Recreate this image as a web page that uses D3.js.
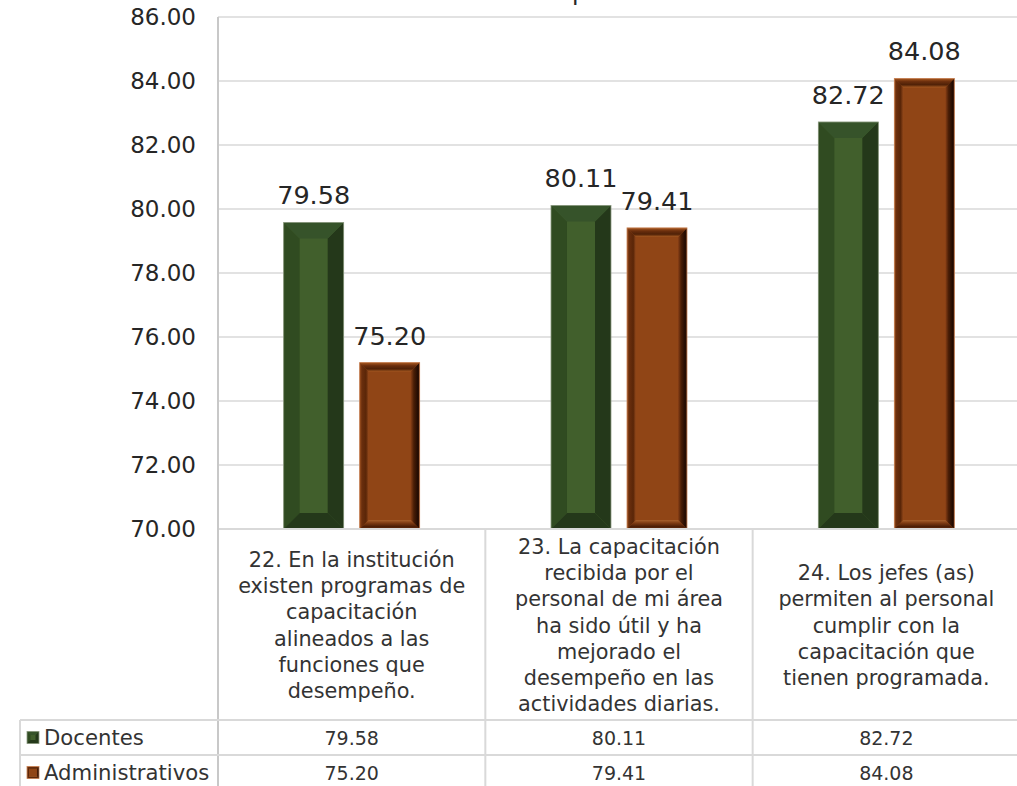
<!DOCTYPE html>
<html>
<head>
<meta charset="utf-8">
<script src="https://cdn.jsdelivr.net/npm/d3@7"></script>
<style>
  html, body { margin: 0; padding: 0; background: #ffffff; }
  svg { display: block; }
  text { font-family: "DejaVu Sans", sans-serif; }
</style>
</head>
<body>
<svg id="chart" width="1017" height="786"></svg>
<script>
// ---- data ----
const chartTitle = "Capacitación";
const categories = ["22", "23", "24"];
const categoryLines = [
  ["22. En la institución", "existen programas de", "capacitación", "alineados a las", "funciones que", "desempeño."],
  ["23. La capacitación", "recibida por el", "personal de mi área", "ha sido útil y ha", "mejorado el", "desempeño en las", "actividades diarias."],
  ["24. Los jefes (as)", "permiten al personal", "cumplir con la", "capacitación que", "tienen programada."]
];
const seriesNames = ["Docentes", "Administrativos"];
const docentes = [79.58, 80.11, 82.72];
const administrativos = [75.20, 79.41, 84.08];
const yTicks = [70, 72, 74, 76, 78, 80, 82, 84, 86];

// ---- layout ----
const svg = d3.select("#chart");
const plotLeft = 218, plotRight = 1020, plotTop = 17, plotBottom = 529;
const labelBottom = 720, row1Bottom = 755, row2Bottom = 790, tableLeft = 20;
const gridColor = "#d9d9d9";

const y = d3.scaleLinear().domain([70, 86]).range([plotBottom, plotTop]);
const x = d3.scaleBand().domain(categories).range([plotLeft, plotRight]);
const xSub = d3.scaleBand().domain(seriesNames).range([0, x.bandwidth()])
  .paddingInner(0.2105).paddingOuter(0.864);

const values = { "Docentes": docentes, "Administrativos": administrativos };

// ---- gradients for bevelled bars ----
const defs = svg.append("defs");
function lg(id, x1, y1, x2, y2, stops) {
  const g = defs.append("linearGradient").attr("id", id)
    .attr("x1", x1).attr("y1", y1).attr("x2", x2).attr("y2", y2);
  stops.forEach(s => g.append("stop").attr("offset", s[0]).attr("stop-color", s[1]));
}
// brown soft-round bevel
lg("brL", 0, 0, 1, 0, [[0, "#9a4e1c"], [0.25, "#6a2e0d"], [0.7, "#5a2608"], [1, "#93481a"]]);
lg("brR", 0, 0, 1, 0, [[0, "#8a4016"], [0.35, "#4a1e06"], [0.8, "#220b02"], [1, "#3a1605"]]);
lg("brT", 0, 0, 0, 1, [[0, "#a9581f"], [0.35, "#6a2e0d"], [0.7, "#4f2107"], [1, "#a35720"]]);
lg("brB", 0, 0, 0, 1, [[0, "#a8602c"], [0.35, "#7c3a12"], [0.75, "#4a1d06"], [1, "#6a2e0d"]]);

const styles = {
  "Docentes": { kind: "angle", face: "#415f2c", left: "#304b21", top: "#36532a", right: "#24381a", bottom: "#24381a", edge: "#8e9c84" },
  "Administrativos": { kind: "soft", face: "#904516", left: "url(#brL)", top: "url(#brT)", right: "url(#brR)", bottom: "url(#brB)", edge: "#c9865a" }
};

function bevelBar(g, bx, by, w, h, st, b) {
  const pts = (arr) => arr.map(p => p.join(",")).join(" ");
  g.append("rect").attr("x", bx).attr("y", by).attr("width", w).attr("height", h).attr("fill", st.face);
  const xl = bx, xr = bx + w, yt = by, yb = by + h;
  g.append("polygon").attr("points", pts([[xl, yt], [xl + b, yt + b], [xl + b, yb - b], [xl, yb]])).attr("fill", st.left);
  g.append("polygon").attr("points", pts([[xr, yt], [xr - b, yt + b], [xr - b, yb - b], [xr, yb]])).attr("fill", st.right);
  g.append("polygon").attr("points", pts([[xl, yt], [xr, yt], [xr - b, yt + b], [xl + b, yt + b]])).attr("fill", st.top);
  g.append("polygon").attr("points", pts([[xl, yb], [xr, yb], [xr - b, yb - b], [xl + b, yb - b]])).attr("fill", st.bottom);
  g.append("rect").attr("x", bx).attr("y", by).attr("width", w).attr("height", h)
    .attr("fill", "none").attr("stroke", st.edge).attr("stroke-width", 0.8);
}

// ---- title (sits above the frame) ----
svg.append("text").attr("x", 618).attr("y", 0).attr("text-anchor", "middle")
  .attr("font-size", 24).attr("fill", "#262626").text(chartTitle);

// ---- gridlines ----
svg.append("g").selectAll("line").data(yTicks.filter(t => t !== 70)).join("line")
  .attr("x1", plotLeft).attr("x2", plotRight)
  .attr("y1", d => y(d)).attr("y2", d => y(d))
  .attr("stroke", gridColor).attr("stroke-width", 1.5);

// ---- y axis labels ----
const yAxis = svg.append("g").attr("transform", `translate(${plotLeft},0)`)
  .call(d3.axisLeft(y).tickValues(yTicks).tickFormat(d3.format(".2f")).tickSize(0).tickPadding(22));
yAxis.select(".domain").remove();
yAxis.selectAll("text").attr("font-size", 23).attr("fill", "#262626")
  .attr("font-family", "DejaVu Sans, sans-serif");

// ---- bars ----
const barsG = svg.append("g");
categories.forEach((c, i) => {
  seriesNames.forEach(s => {
    const v = values[s][i];
    const bx = x(c) + xSub(s), bw = xSub.bandwidth();
    const by = y(v), bh = y(70) - y(v);
    const st = styles[s];
    bevelBar(barsG, bx, by, bw, bh, st, st.kind === "angle" ? 16 : 9);
    barsG.append("text").attr("x", bx + bw / 2).attr("y", by - 18)
      .attr("text-anchor", "middle").attr("font-size", 25.5).attr("fill", "#262626")
      .text(d3.format(".2f")(v));
  });
});

// ---- table frame ----
const tbl = svg.append("g").attr("stroke", gridColor).attr("stroke-width", 2);
tbl.append("line").attr("x1", plotLeft).attr("x2", plotRight).attr("y1", plotBottom).attr("y2", plotBottom);
tbl.append("line").attr("x1", plotLeft).attr("x2", plotLeft).attr("y1", plotTop).attr("y2", row2Bottom).attr("stroke", "#c8c8c8");
categories.forEach(c => {
  tbl.append("line").attr("x1", x(c) + x.bandwidth()).attr("x2", x(c) + x.bandwidth())
    .attr("y1", plotBottom).attr("y2", row2Bottom);
});
[labelBottom, row1Bottom].forEach(yy => {
  tbl.append("line").attr("x1", tableLeft).attr("x2", plotRight).attr("y1", yy).attr("y2", yy);
});
tbl.append("line").attr("x1", tableLeft).attr("x2", tableLeft).attr("y1", labelBottom).attr("y2", row2Bottom);

// ---- category labels ----
const lineH = 26.2;
categories.forEach((c, i) => {
  const lines = categoryLines[i];
  const cy = 625;
  const t = svg.append("text").attr("text-anchor", "middle").attr("font-size", 20.8)
    .attr("fill", "#333333");
  lines.forEach((ln, k) => {
    t.append("tspan").attr("x", x(c) + x.bandwidth() / 2)
      .attr("y", cy + (k - (lines.length - 1) / 2) * lineH + 7.5)
      .text(ln);
  });
});

// ---- data table rows ----
const rowTops = [labelBottom, row1Bottom];
seriesNames.forEach((s, r) => {
  const rowMid = rowTops[r] + 17.5;
  const st = styles[s];
  bevelBar(svg.append("g"), 27, rowMid - 6, 12, 12, st, st.kind === "angle" ? 3.5 : 2.5);
  svg.append("text").attr("x", 44).attr("y", rowMid + 7.5).attr("font-size", 21.2)
    .attr("fill", "#333333").text(s);
  categories.forEach((c, i) => {
    svg.append("text").attr("x", x(c) + x.bandwidth() / 2).attr("y", rowMid + 7)
      .attr("text-anchor", "middle").attr("font-size", 19).attr("fill", "#333333")
      .text(d3.format(".2f")(values[s][i]));
  });
});
</script>
</body>
</html>
